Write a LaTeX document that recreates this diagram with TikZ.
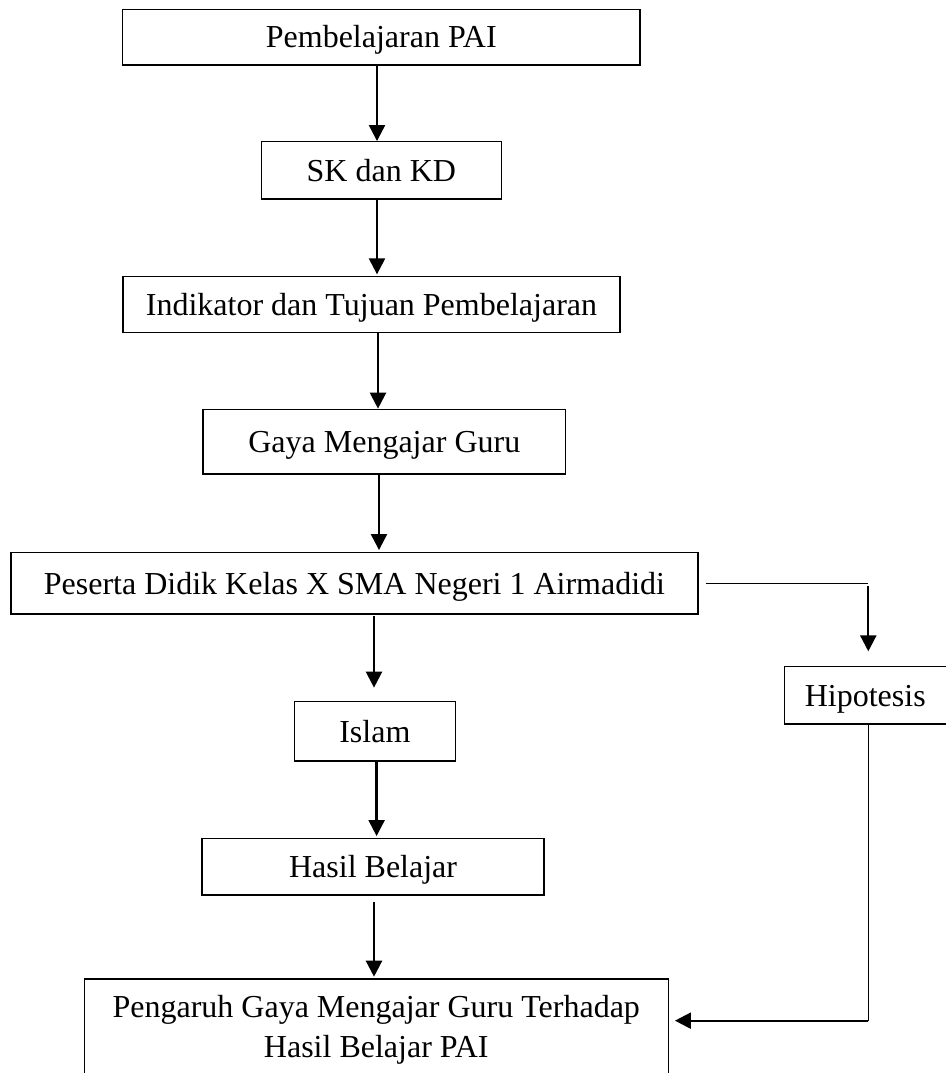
\documentclass[tikz,border=0pt]{standalone}
\usepackage{fontspec}
\setmainfont{Liberation Serif}
\usetikzlibrary{arrows.meta}
\begin{document}
\begin{tikzpicture}[x=1pt,y=-1pt,
  box/.style={draw, line width=1.3pt, inner sep=0pt, text height=21.5pt, text depth=0pt,
    font=\fontsize{32}{40.3}\selectfont},
  arr/.style={line width=2.3pt, -{Triangle[length=16pt,width=16pt]}},
  thinline/.style={line width=1.2pt}]
\useasboundingbox (0,0) rectangle (945,1073);
\fill[white] (0,0) rectangle (945,1073);
\node[box, minimum width=517.5pt, minimum height=55.7pt] (b1) at (381.25,37.15) {Pembelajaran PAI};
\node[box, minimum width=240pt, minimum height=57.3pt] (b2) at (381.35,170.35) {SK dan KD};
\node[box, minimum width=497pt, minimum height=55.6pt] (b3) at (371.5,304.5) {Indikator dan Tujuan Pembelajaran};
\node[box, minimum width=362.6pt, minimum height=64.7pt] (b4) at (384.3,441.65) {Gaya Mengajar Guru};
\node[box, minimum width=687pt, minimum height=61.3pt] (b5) at (354.5,583.35) {Peserta Didik Kelas X SMA Negeri 1 Airmadidi};
\node[box, minimum width=161pt, minimum height=59.3pt] (b6) at (374.85,731.35) {Islam};
\node[box, minimum width=342pt, minimum height=56.7pt] (b7) at (373.1,866.65) {Hasil Belajar};
\node[box, anchor=north, minimum width=584.1pt, align=center, inner ysep=16.4pt,
  text height=62.3pt, text depth=7pt] (b8) at (376.25,978.3)
  {Pengaruh Gaya Mengajar Guru Terhadap\\Hasil Belajar PAI};
\node[box, minimum width=168pt, minimum height=57.3pt, text width=127pt, align=left] (hip) at (868.3,695.35) {Hipotesis};
\draw[arr] ([xshift=-4.25pt]b1.south) -- ([xshift=-4.35pt]b2.north);
\draw[arr, shorten >=1.7pt] ([xshift=-4.35pt]b2.south) -- ([xshift=5.5pt]b3.north);
\draw[arr] ([xshift=6.5pt]b3.south) -- ([xshift=-6.3pt]b4.north);
\draw[arr, shorten >=2pt] ([xshift=-5.3pt]b4.south) -- ([xshift=24.5pt]b5.north);
\draw[arr, shorten <=1pt, shorten >=13.4pt] ([xshift=19.5pt]b5.south) -- ([xshift=-0.85pt]b6.north);
\draw[arr, shorten >=1.6pt] ([xshift=1.75pt]b6.south) -- ([xshift=3.5pt]b7.north);
\draw[arr, shorten <=6.7pt, shorten >=1.6pt] ([xshift=0.9pt]b7.south) -- ([xshift=-2.25pt]b8.north);
\coordinate (t1) at (hip.north |- b5.east);
\draw[thinline] ([xshift=7pt]b5.east) -- (t1);
\draw[arr, shorten <=3pt, shorten >=14.7pt] (t1) -- (hip.north);
\coordinate (t2) at ([yshift=9.35pt]hip.south |- b8.east);
\draw[thinline] (hip.south) -- (t2);
\draw[arr, shorten >=6pt] (t2) -- (t2 -| b8.east);
\end{tikzpicture}
\end{document}
